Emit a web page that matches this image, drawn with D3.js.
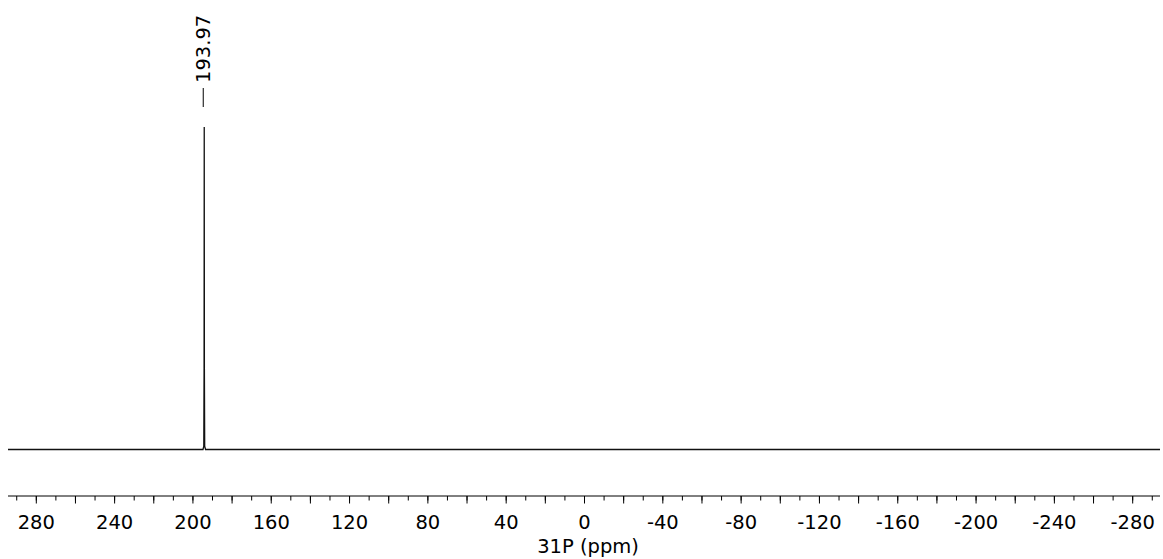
<!DOCTYPE html>
<html>
<head>
<meta charset="utf-8">
<script src="https://cdn.jsdelivr.net/npm/d3@7"></script>
<style>
  html, body { margin: 0; padding: 0; background: #fff; }
  svg { display: block; }
  text { font-family: "DejaVu Sans", Verdana, sans-serif; fill: #000; }
</style>
</head>
<body>
<svg id="chart" width="1163" height="559"></svg>
<script>
// 31P NMR spectrum: chemical shift (ppm) and normalised intensity
const shiftPpm  = [295, 194.6, 194.2, 194.05, 193.97, 193.89, 193.74, 193.3, -295];
const intensity = [0,   0,     0.01,  0.25,   1.0,    0.25,   0.01,   0,     0];

// Peak picking labels
const peakLabels = [193.97];

// Axis ticks
const minorTicks = d3.range(290, -291, -10);
const majorTicks = d3.range(280, -281, -20);
const labelTicks = [280, 240, 200, 160, 120, 80, 40, 0, -40, -80, -120, -160, -200, -240, -280];
const axisTitle = "31P (ppm)";

const svg = d3.select("#chart");
const fontSize = "19.5px";

const x = d3.scaleLinear().domain([294.2, -294.2]).range([8, 1160]);
const y = d3.scaleLinear().domain([0, 1]).range([449.5, 127]);

// spectrum trace, clipped to the axis span
const line = d3.line()
  .x((d, i) => x(Math.max(Math.min(shiftPpm[i], 294.2), -294.2)))
  .y((d, i) => y(intensity[i]));

svg.append("path")
  .datum(shiftPpm)
  .attr("d", line)
  .attr("fill", "none")
  .attr("stroke", "#111")
  .attr("stroke-width", 1.3);

// peak labels with marker dash
const lbl = svg.append("g").selectAll("g").data(peakLabels).join("g");
lbl.append("line")
  .attr("x1", d => x(d) - 1).attr("x2", d => x(d) - 1)
  .attr("y1", 88).attr("y2", 107)
  .attr("stroke", "#000").attr("stroke-width", 1);
lbl.append("text")
  .attr("transform", d => `translate(${x(d) + 6},83) rotate(-90)`)
  .attr("text-anchor", "start")
  .style("font-size", fontSize)
  .text(d => d.toFixed(2));

// x axis
const axisY = 496;
const axisG = svg.append("g").attr("transform", `translate(0,${axisY})`);

axisG.append("line")
  .attr("x1", x.range()[0]).attr("x2", x.range()[1])
  .attr("y1", 0).attr("y2", 0)
  .attr("stroke", "#000").attr("stroke-width", 1);

axisG.append("g").call(
  d3.axisBottom(x).tickValues(minorTicks).tickSize(4.5).tickFormat("")
).call(g => g.select(".domain").remove())
 .call(g => g.selectAll("line").attr("stroke", "#000"));

axisG.append("g").call(
  d3.axisBottom(x).tickValues(majorTicks).tickSize(7.5).tickFormat("")
).call(g => g.select(".domain").remove())
 .call(g => g.selectAll("line").attr("stroke", "#000"));

axisG.append("g").call(
  d3.axisBottom(x).tickValues(labelTicks).tickSize(0).tickPadding(19.5)
    .tickFormat(d => String(d))
).call(g => g.select(".domain").remove())
 .call(g => g.selectAll("text")
   .style("font-size", fontSize)
   .style("font-family", '"DejaVu Sans", Verdana, sans-serif')
   .attr("fill", "#000"));

svg.append("text")
  .attr("x", 588).attr("y", 553)
  .attr("text-anchor", "middle")
  .style("font-size", fontSize)
  .text(axisTitle);
</script>
</body>
</html>
